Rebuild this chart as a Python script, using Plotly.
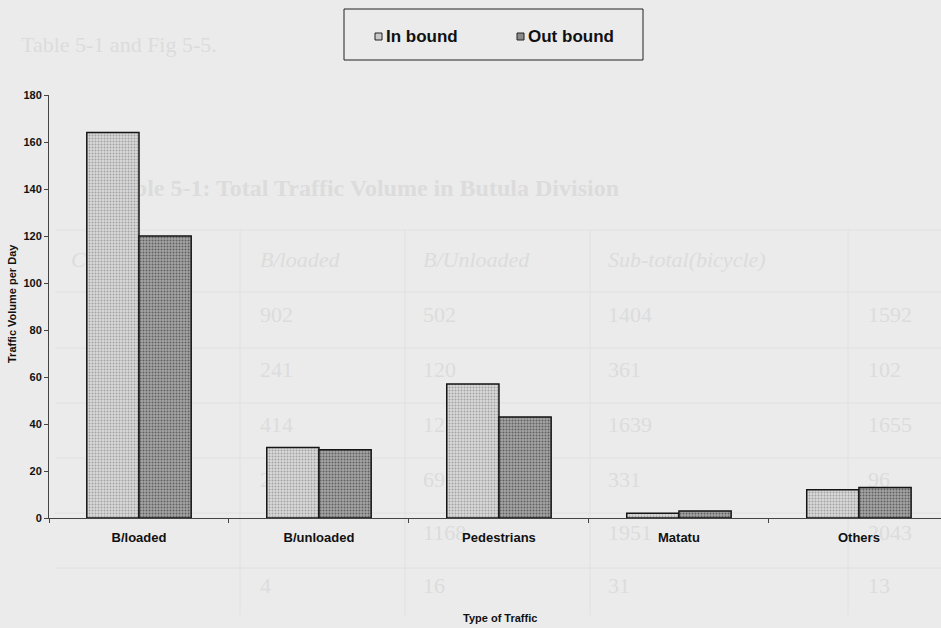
import plotly.graph_objects as go

# ---- data -------------------------------------------------------------
categories = ["B/loaded", "B/unloaded", "Pedestrians", "Matatu", "Others"]
series_names = ["In bound", "Out bound"]
in_bound = [164, 30, 57, 2, 12]
out_bound = [120, 29, 43, 3, 13]

y_title = "Traffic Volume per Day"
x_title = "Type of Traffic"

# faint table printed behind the chart
bg_heading = "Table 5-1 and Fig 5-5."
bg_caption = "Table 5-1: Total Traffic Volume in Butula Division"
bg_header = ["Category", "B/loaded", "B/Unloaded", "Sub-total(bicycle)", ""]
bg_rows = [
    ["", "902", "502", "1404", "1592"],
    ["", "241", "120", "361", "102"],
    ["", "414", "1225", "1639", "1655"],
    ["", "262", "69", "331", "96"],
    ["", "", "1168", "1951", "2043"],
    ["", "4", "16", "31", "13"],
]

# ---- geometry ---------------------------------------------------------
W, H = 941, 628
L, R, T, B = 49, 0, 95, 110
PW, PH = W - L - R, H - T - B
Y0 = H - B


def px(x):
    return (x - L) / PW


def py(y):
    return (Y0 - y) / PH


SANS = "Liberation Sans, Arial, sans-serif"
SERIF = "Liberation Serif, Times New Roman, serif"
BG = "#ebebeb"
GHOST = "#dcdcdc"
GHOST_LINE = "#e0e0e0"

fills = ["#dadada", "#a5a5a5"]
dots = ["#a2a2a2", "#606060"]

fig = go.Figure()
for name, vals, fc, dc in zip(series_names, [in_bound, out_bound], fills, dots):
    fig.add_trace(go.Bar(
        x=categories, y=vals, name=name,
        marker=dict(
            color=fc,
            line=dict(color="#151515", width=1.5),
            pattern=dict(shape=".", size=3, solidity=0.35,
                         fgcolor=dc, bgcolor=fc, fillmode="replace"),
        ),
        showlegend=False,
    ))

shapes = []
annotations = []

# faint background table: rules
row_lines = [230, 292, 348, 403, 458, 513, 568]
col_lines = [55, 240, 405, 590, 848]
for yl in row_lines:
    shapes.append(dict(type="line", xref="paper", yref="paper", layer="below",
                       x0=px(55), x1=px(941), y0=py(yl), y1=py(yl),
                       line=dict(color=GHOST_LINE, width=1)))
for xl in col_lines[1:]:
    shapes.append(dict(type="line", xref="paper", yref="paper", layer="below",
                       x0=px(xl), x1=px(xl), y0=py(row_lines[0]), y1=py(615),
                       line=dict(color=GHOST_LINE, width=1)))


def ghost_text(text, x, y, size, weight="normal", style="normal", color=GHOST):
    shapes.append(dict(
        type="rect", xref="paper", yref="paper", layer="below",
        x0=px(x), x1=px(x + 10), y0=py(y + 5), y1=py(y - 5),
        line=dict(width=0), fillcolor="rgba(0,0,0,0)",
        label=dict(text=text, textposition="middle left", padding=0,
                   font=dict(family=SERIF, size=size, color=color,
                             weight=weight, style=style)),
    ))


ghost_text(bg_heading, 18, 42, 22)
ghost_text(bg_caption, 105, 185, 24, weight="bold")
col_x = [68, 257, 420, 605, 865]
for cx, h in zip(col_x, bg_header):
    if h:
        ghost_text(h, cx, 257, 22, style="italic")
row_y = [312, 367, 422, 477, 530, 583]
for ry, row in zip(row_y, bg_rows):
    for cx, v in zip(col_x, row):
        if v:
            ghost_text(v, cx, ry, 22)

# legend box drawn by hand
shapes.append(dict(type="rect", xref="paper", yref="paper", layer="above",
                   x0=px(344), x1=px(643), y0=py(9), y1=py(60),
                   line=dict(color="#222", width=1), fillcolor=BG))
for sx, fc, name in zip([375, 517], ["#c9c9c9", "#8a8a8a"], series_names):
    shapes.append(dict(type="rect", xref="paper", yref="paper", layer="above",
                       x0=px(sx), x1=px(sx + 7), y0=py(33), y1=py(40),
                       line=dict(color="#222", width=1), fillcolor=fc))
    annotations.append(dict(xref="paper", yref="paper", x=px(sx + 9), y=py(36.5),
                            text=name, showarrow=False, xanchor="left", yanchor="middle",
                            font=dict(family=SANS, size=17, color="#111", weight="bold")))

# axis titles
annotations.append(dict(xref="paper", yref="paper", x=px(12), y=py(304), text=y_title,
                        textangle=-90, showarrow=False, xanchor="center", yanchor="middle",
                        font=dict(family=SANS, size=11, color="#111", weight="bold")))
annotations.append(dict(xref="paper", yref="paper", x=px(500), y=py(618), text=x_title,
                        showarrow=False, xanchor="center", yanchor="middle",
                        font=dict(family=SANS, size=11, color="#111", weight="bold")))

fig.update_layout(
    width=W, height=H,
    margin=dict(l=L, r=R, t=T, b=B, pad=0),
    paper_bgcolor=BG, plot_bgcolor="rgba(0,0,0,0)",
    barmode="group", bargap=0.42, bargroupgap=0,
    shapes=shapes, annotations=annotations,
    font=dict(family=SANS, color="#111"),
)
fig.update_xaxes(
    type="category", range=[-0.5, 4.456], tickson="boundaries",
    ticks="outside", ticklen=4, tickcolor="#444", showline=True,
    linecolor="#444", linewidth=1, showgrid=False,
    tickfont=dict(family=SANS, size=13, color="#111", weight="bold"),
    ticklabelstandoff=7,
)
fig.update_yaxes(
    range=[0, 180], dtick=20, ticks="outside", ticklen=4, tickcolor="#444",
    showline=True, linecolor="#444", linewidth=1, showgrid=False, zeroline=False,
    tickfont=dict(family=SANS, size=11, color="#111", weight="bold"),
)

fig.write_html("out.html")
